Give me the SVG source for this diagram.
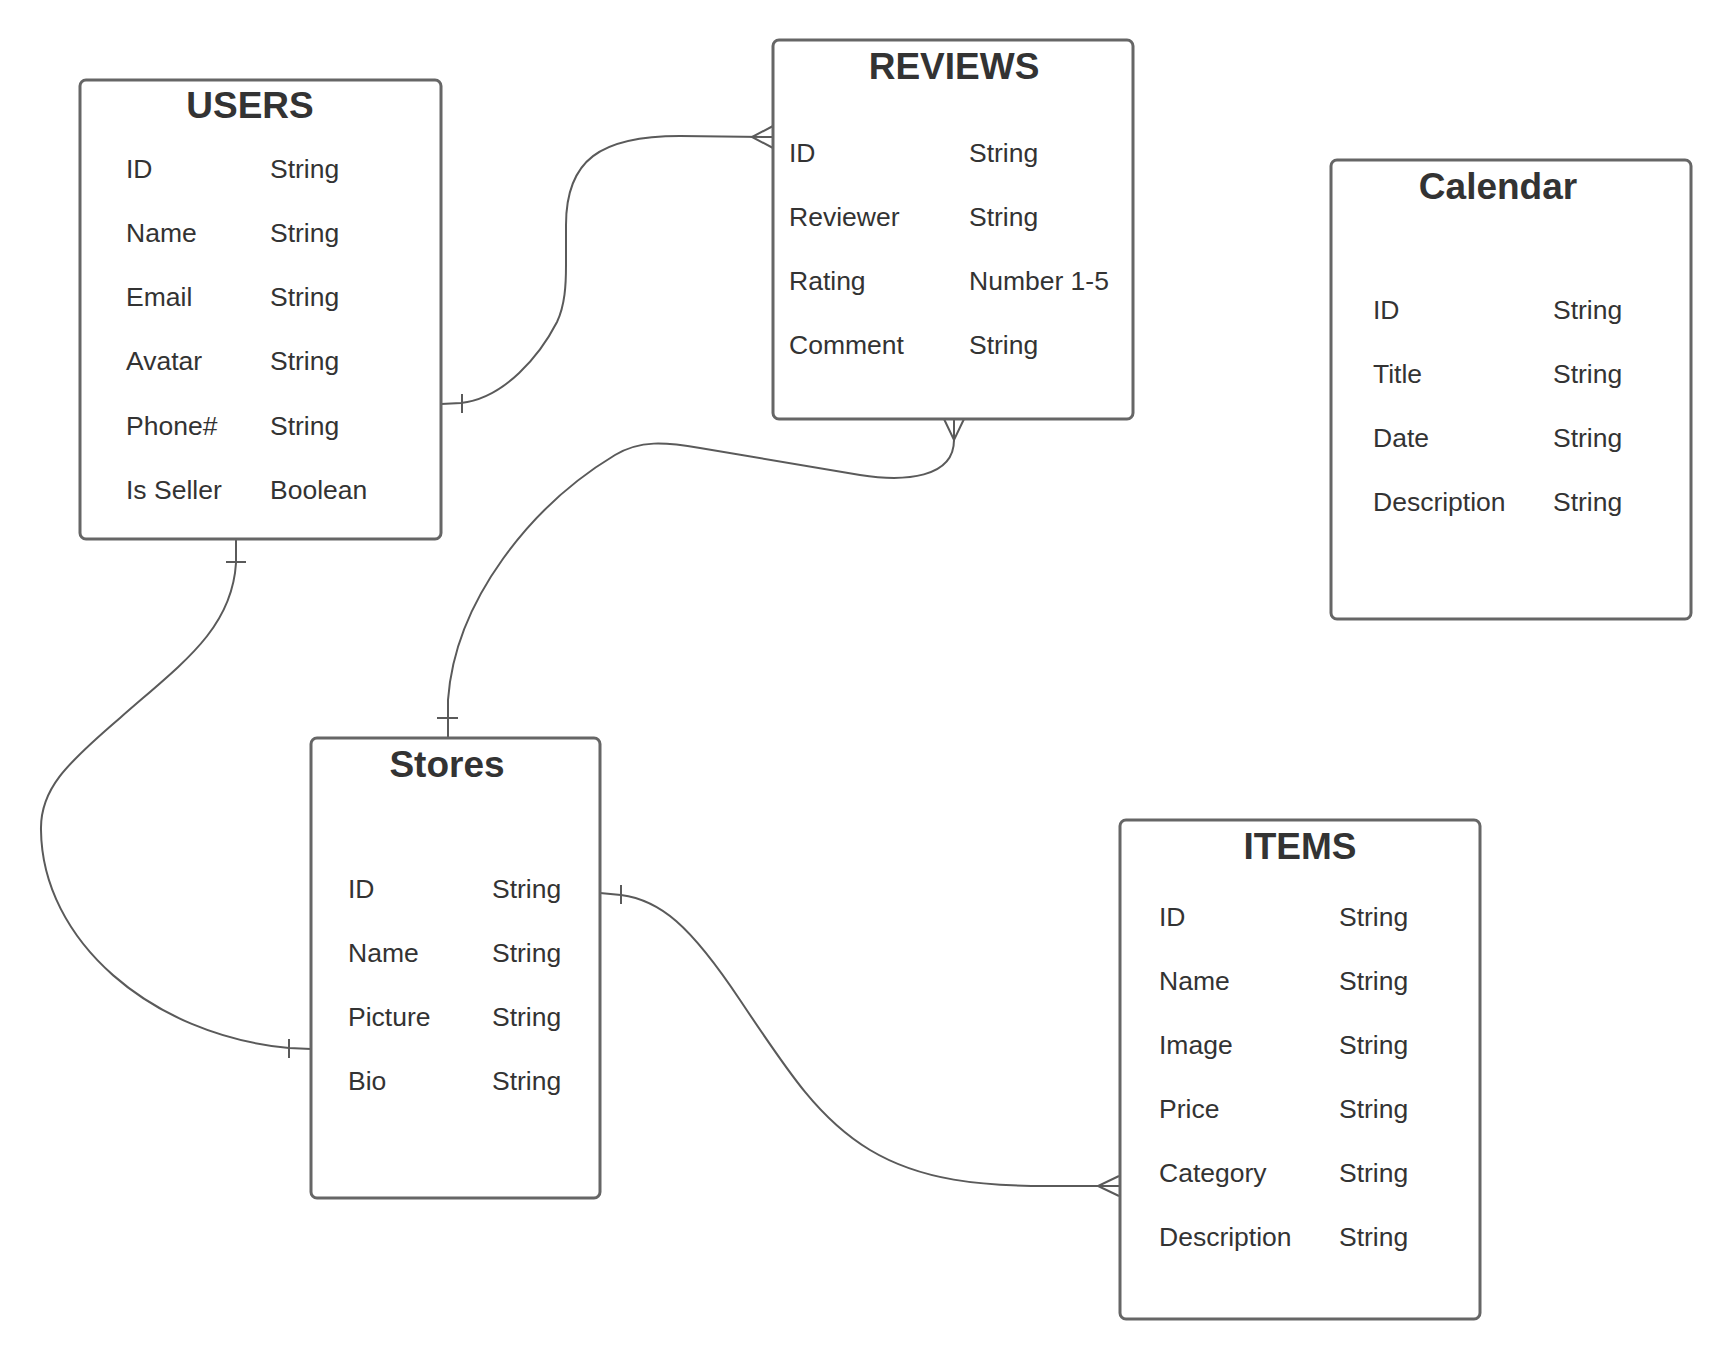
<svg xmlns="http://www.w3.org/2000/svg" width="1732" height="1360" viewBox="0 0 1732 1360">
<style>
.box{fill:#ffffff;stroke:#666666;stroke-width:3}
.title{font-family:"Liberation Sans",Arial,sans-serif;font-size:37px;font-weight:bold;fill:#333333;text-anchor:middle}
.t{font-family:"Liberation Sans",Arial,sans-serif;font-size:26.5px;fill:#333333}
.c{fill:none;stroke:#5a5a5a;stroke-width:2}
</style>
<rect width="1732" height="1360" fill="#ffffff"/>
<g id="connectors">
<path class="c" d="M441,404 L461,403 C505,398 540,355 557,322 C565,305 566,285 566,265 L566,225 C566,160 600,136 680,136 L773,137"/>
<path class="c" d="M462,394 L462,413"/>
<path class="c" d="M773,126 L752,137 L773,148"/>
<path class="c" d="M954,419 L954,440 C954,478 905,482 860,475 L700,448 C665,442 640,440 615,455 C532,505 455,600 448,700 L448,738"/>
<path class="c" d="M944,419 L954,440 L964,419"/>
<path class="c" d="M437,718 L458,718"/>
<path class="c" d="M236,539 L236,563 C232,630 180,665 120,718 C65,765 40,790 41,830 C42,940 150,1035 289,1048 L311,1049"/>
<path class="c" d="M226,562 L246,562"/>
<path class="c" d="M289,1039 L289,1058"/>
<path class="c" d="M600,893 L621,895 C660,900 690,925 740,1000 C790,1075 820,1120 870,1150 C920,1180 980,1187 1060,1186 L1120,1186"/>
<path class="c" d="M621,885 L621,904"/>
<path class="c" d="M1119,1176 L1098,1186 L1119,1196"/>
</g>
<g id="users">
<rect class="box" x="80" y="80" width="361" height="459" rx="6"/>
<text class="title" x="250" y="118">USERS</text>
<text class="t" x="126" y="178">ID</text><text class="t" x="270" y="178">String</text>
<text class="t" x="126" y="242">Name</text><text class="t" x="270" y="242">String</text>
<text class="t" x="126" y="306">Email</text><text class="t" x="270" y="306">String</text>
<text class="t" x="126" y="370">Avatar</text><text class="t" x="270" y="370">String</text>
<text class="t" x="126" y="435">Phone#</text><text class="t" x="270" y="435">String</text>
<text class="t" x="126" y="499">Is Seller</text><text class="t" x="270" y="499">Boolean</text>
</g>
<g id="reviews">
<rect class="box" x="773" y="40" width="360" height="379" rx="6"/>
<text class="title" x="954" y="79">REVIEWS</text>
<text class="t" x="789" y="162">ID</text><text class="t" x="969" y="162">String</text>
<text class="t" x="789" y="226">Reviewer</text><text class="t" x="969" y="226">String</text>
<text class="t" x="789" y="290">Rating</text><text class="t" x="969" y="290">Number 1-5</text>
<text class="t" x="789" y="354">Comment</text><text class="t" x="969" y="354">String</text>
</g>
<g id="calendar">
<rect class="box" x="1331" y="160" width="360" height="459" rx="6"/>
<text class="title" x="1498" y="199">Calendar</text>
<text class="t" x="1373" y="319">ID</text><text class="t" x="1553" y="319">String</text>
<text class="t" x="1373" y="383">Title</text><text class="t" x="1553" y="383">String</text>
<text class="t" x="1373" y="447">Date</text><text class="t" x="1553" y="447">String</text>
<text class="t" x="1373" y="511">Description</text><text class="t" x="1553" y="511">String</text>
</g>
<g id="stores">
<rect class="box" x="311" y="738" width="289" height="460" rx="6"/>
<text class="title" x="447" y="777">Stores</text>
<text class="t" x="348" y="898">ID</text><text class="t" x="492" y="898">String</text>
<text class="t" x="348" y="962">Name</text><text class="t" x="492" y="962">String</text>
<text class="t" x="348" y="1026">Picture</text><text class="t" x="492" y="1026">String</text>
<text class="t" x="348" y="1090">Bio</text><text class="t" x="492" y="1090">String</text>
</g>
<g id="items">
<rect class="box" x="1120" y="820" width="360" height="499" rx="6"/>
<text class="title" x="1300" y="859">ITEMS</text>
<text class="t" x="1159" y="926">ID</text><text class="t" x="1339" y="926">String</text>
<text class="t" x="1159" y="990">Name</text><text class="t" x="1339" y="990">String</text>
<text class="t" x="1159" y="1054">Image</text><text class="t" x="1339" y="1054">String</text>
<text class="t" x="1159" y="1118">Price</text><text class="t" x="1339" y="1118">String</text>
<text class="t" x="1159" y="1182">Category</text><text class="t" x="1339" y="1182">String</text>
<text class="t" x="1159" y="1246">Description</text><text class="t" x="1339" y="1246">String</text>
</g>
</svg>
